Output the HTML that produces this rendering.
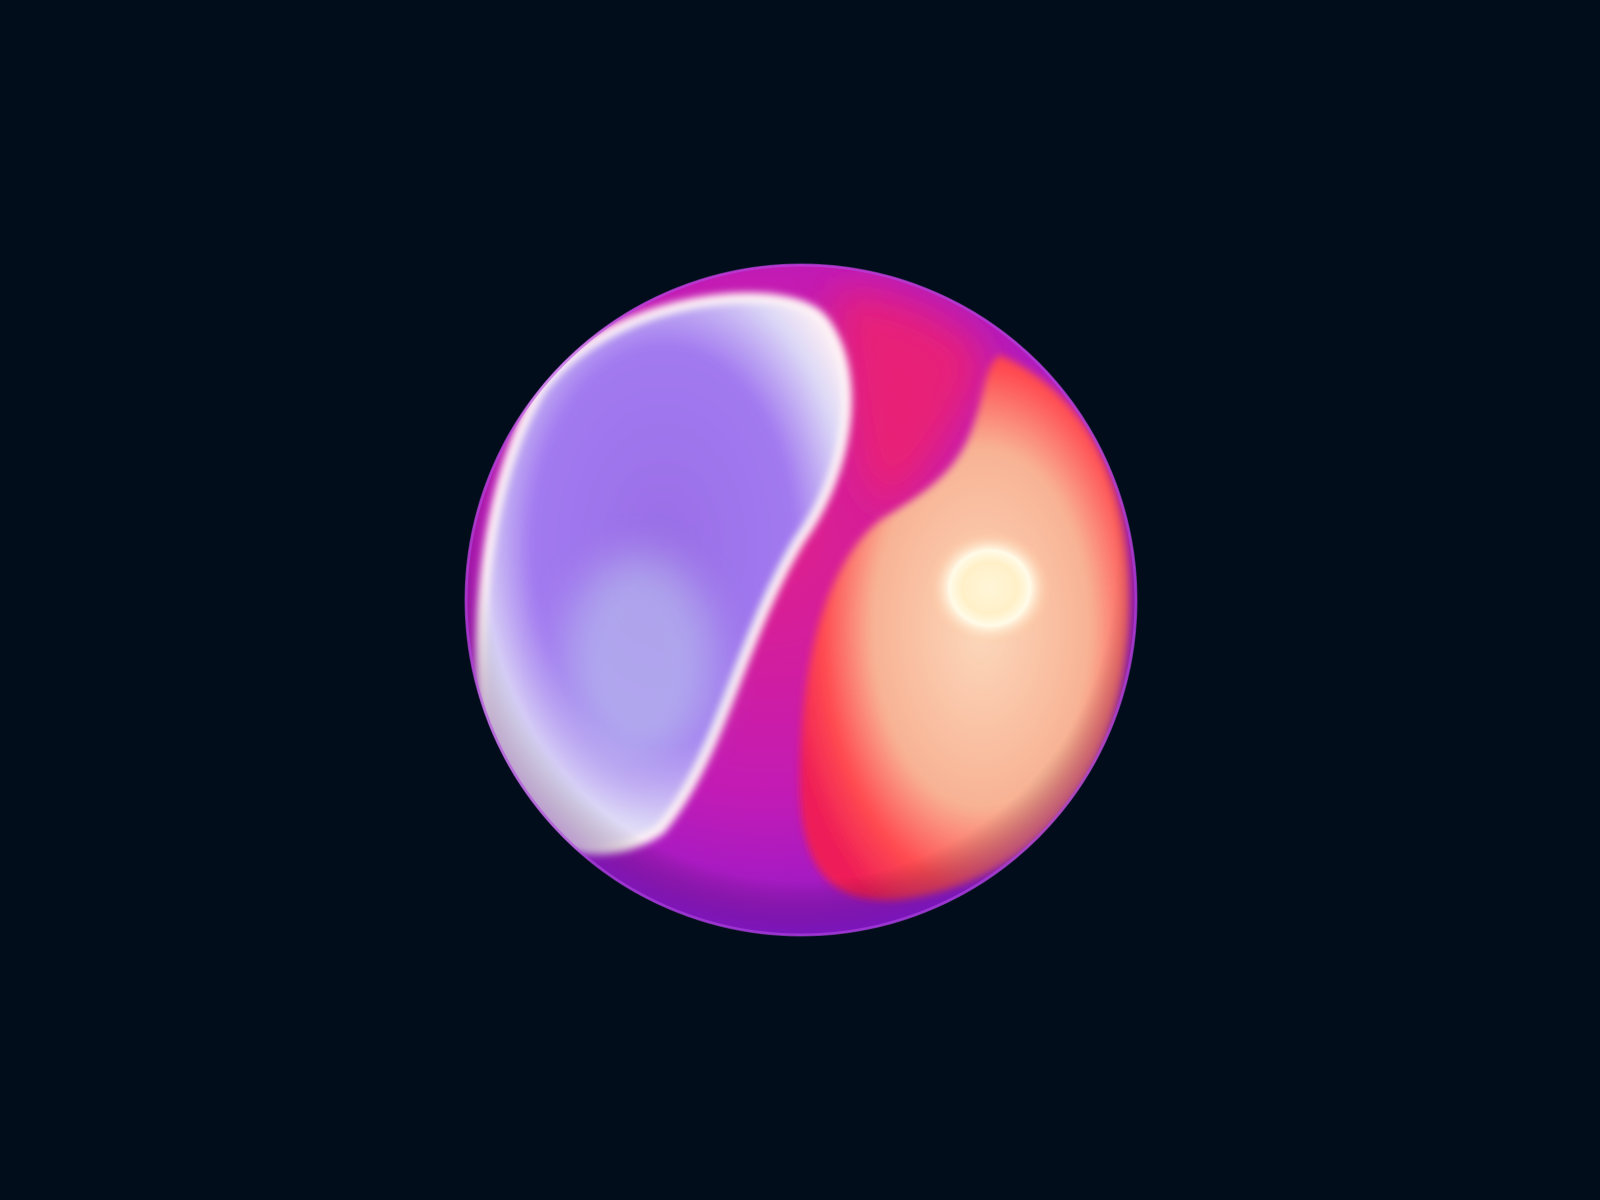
<!DOCTYPE html>
<html><head><meta charset="utf-8"><style>
html,body{margin:0;padding:0;background:#020d1b;}
svg{display:block}
</style></head><body>
<svg width="1600" height="1200" viewBox="0 0 1600 1200" xmlns="http://www.w3.org/2000/svg">
<defs>
  <radialGradient id="base" cx="0.45" cy="0.4" r="0.65">
    <stop offset="0" stop-color="#e0208a"/>
    <stop offset="0.6" stop-color="#c21bb5"/>
    <stop offset="1" stop-color="#8a1ad0"/>
  </radialGradient>
  <radialGradient id="leftg" cx="0.5" cy="0.45" r="0.6">
    <stop offset="0" stop-color="#9a6ee6"/>
    <stop offset="0.6" stop-color="#a27af0"/>
    <stop offset="0.85" stop-color="#dcd8f6"/>
    <stop offset="1" stop-color="#fff0f4"/>
  </radialGradient>
  <radialGradient id="rightg" cx="0.55" cy="0.5" r="0.6">
    <stop offset="0" stop-color="#fcd8bc"/>
    <stop offset="0.55" stop-color="#f8b294"/>
    <stop offset="0.8" stop-color="#ff4a50"/>
    <stop offset="1" stop-color="#ee1c58"/>
  </radialGradient>
  <radialGradient id="hl" cx="0.5" cy="0.5" r="0.5">
    <stop offset="0" stop-color="#fff6d8"/>
    <stop offset="0.45" stop-color="#fff0c8"/>
    <stop offset="0.65" stop-color="#fffbe8"/>
    <stop offset="1" stop-color="#ffc59a" stop-opacity="0"/>
  </radialGradient>
  <radialGradient id="shade" cx="0.5" cy="0.45" r="0.55">
    <stop offset="0.85" stop-color="#000" stop-opacity="0"/>
    <stop offset="1" stop-color="#6010b0" stop-opacity="0.45"/>
  </radialGradient>
  <clipPath id="clip"><circle cx="801" cy="600" r="336"/></clipPath>
  <filter id="b8" x="-50%" y="-50%" width="200%" height="200%"><feGaussianBlur stdDeviation="8"/></filter>
  <filter id="b4" x="-50%" y="-50%" width="200%" height="200%"><feGaussianBlur stdDeviation="4"/></filter>
  <filter id="b20" x="-50%" y="-50%" width="200%" height="200%"><feGaussianBlur stdDeviation="20"/></filter>
</defs>
<rect width="1600" height="1200" fill="#020d1b"/>
<g clip-path="url(#clip)">
  <circle cx="801" cy="600" r="336" fill="url(#base)"/>
  <path d="M830,290 C900,290 960,320 990,360 C960,420 930,480 880,510 C850,460 850,380 830,290 Z" fill="#f0206a" opacity="0.8" filter="url(#b20)"/>
  <path d="M1000,355 C1080,390 1130,470 1130,600 C1130,760 1050,880 900,900 C830,905 800,870 800,780 C800,650 830,560 880,520 C930,490 960,470 975,420 C985,390 985,365 1000,355 Z" fill="url(#rightg)" filter="url(#b4)"/>
  <ellipse cx="990" cy="588" rx="62" ry="58" fill="url(#hl)"/>
  <path d="M830,330 C860,380 850,470 800,540 C740,640 720,760 660,830 C600,870 520,850 490,760 C470,660 480,490 540,390 C600,310 720,290 780,300 C810,305 822,315 830,330 Z" fill="url(#leftg)" stroke="#fff4f6" stroke-width="10" filter="url(#b4)"/>
  <ellipse cx="640" cy="660" rx="75" ry="105" fill="#c0d4ee" opacity="0.5" filter="url(#b20)"/>
  <circle cx="801" cy="600" r="336" fill="url(#shade)"/>
</g>
<circle cx="801" cy="600" r="335" fill="none" stroke="#b04ae0" stroke-width="3" opacity="0.6"/>
</svg>
</body></html>
